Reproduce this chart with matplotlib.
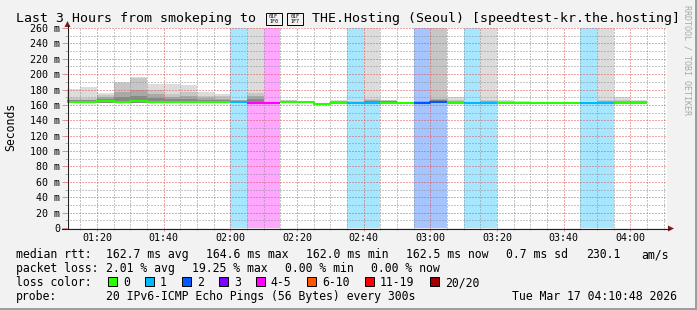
import numpy as np
import matplotlib
matplotlib.use("Agg")
import matplotlib.pyplot as plt
from matplotlib.patches import Rectangle, Polygon
from matplotlib.lines import Line2D
from matplotlib.ticker import FixedLocator, MultipleLocator

# ---- values (5 minute steps) ----
step_end = ["01:15", "01:20", "01:25", "01:30", "01:35", "01:40", "01:45",
            "01:50", "01:55", "02:00", "02:05", "02:10", "02:15", "02:20",
            "02:25", "02:30", "02:35", "02:40", "02:45", "02:50", "02:55",
            "03:00", "03:05", "03:10", "03:15", "03:20", "03:25", "03:30",
            "03:35", "03:40", "03:45", "03:50", "03:55", "04:00", "04:05"]
median_ms = [163.5, 163.5, 164.5, 164.2, 164.6, 164.0, 164.3, 164.2, 163.6, 163.5,
             163.5, 163.0, 163.0, 163.5, 163.2, 161.8, 163.0, 162.6, 162.6, 162.8,
             162.4, 163.0, 164.4, 162.3, 162.0, 162.0, 162.2, 162.2, 162.1, 162.1,
             162.1, 162.2, 162.2, 162.4, 162.5]
lost_pings = [0, 0, 0, 0, 0, 0, 0, 0, 0, 0,
              1, 4, 4, 0, 0, 0, 0, 1, 1, 0,
              0, 2, 2, 0, 1, 1, 0, 0, 0, 0,
              0, 1, 1, 0, 0]
smoke_min = [162.0, 162.0, 163.0, 163.0, 163.0, 162.5, 163.0, 163.0, 162.5, 162.5,
             162.5, 162.0, 162.0, 162.5, 162.3, 160.8, 162.0, 161.6, 161.6, 161.8,
             161.4, 162.0, 163.4, 161.3, 161.0, 161.0, 161.2, 161.2, 161.1, 161.1,
             161.1, 161.2, 161.2, 161.4, 161.5]
smoke_p60 = [166.0, 166.0, 167.5, 170.7, 172.0, 169.0, 167.5, 168.0, 166.5, 166.0,
             165.5, 168.0, 164.0, 165.0, 164.0, 162.5, 164.0, 163.5, 164.5, 164.5,
             163.2, 164.2, 166.5, 164.0, 163.0, 163.5, 163.5, 163.4, 163.2, 163.2,
             163.2, 163.4, 163.6, 164.2, 164.0]
smoke_p75 = [167.0, 167.0, 170.0, 177.2, 179.4, 174.0, 170.0, 172.0, 168.5, 168.0,
             166.0, 171.0, 164.0, 165.5, 164.2, 162.6, 164.5, 164.0, 166.0, 165.0,
             163.3, 164.5, 168.0, 165.0, 163.1, 164.5, 164.0, 163.6, 163.4, 163.3,
             163.3, 163.6, 164.5, 165.0, 164.6]
smoke_p90 = [169.5, 169.5, 173.0, 189.0, 195.5, 180.0, 173.8, 177.0, 171.0, 171.0,
             167.0, 176.0, 164.0, 166.0, 164.3, 162.8, 165.0, 165.0, 168.0, 166.0,
             163.4, 165.0, 300.0, 167.0, 163.3, 166.0, 165.0, 164.0, 163.6, 163.5,
             163.5, 164.0, 166.0, 166.5, 165.5]
smoke_max = [180.7, 183.3, 175.5, 190.2, 196.7, 187.2, 187.0, 186.3, 176.3, 174.6,
             168.0, 300.0, 164.0, 167.0, 164.5, 163.0, 166.0, 166.5, 300.0, 167.0,
             163.5, 165.5, 300.0, 170.3, 163.5, 300.0, 166.8, 164.5, 164.0, 163.8,
             163.8, 164.5, 300.0, 170.0, 166.8]

x_tick_labels = ["01:20", "01:40", "02:00", "02:20", "02:40", "03:00", "03:20", "03:40", "04:00"]
y_ticks = [0, 20, 40, 60, 80, 100, 120, 140, 160, 180, 200, 220, 240, 260]
y_tick_labels = ["0", "20 m", "40 m", "60 m", "80 m", "100 m", "120 m", "140 m",
                 "160 m", "180 m", "200 m", "220 m", "240 m", "260 m"]

loss_labels = ["0", "1", "2", "3", "4-5", "6-10", "11-19", "20/20"]
loss_upper = [0, 1, 2, 3, 5, 10, 19, 20]
loss_colors = ["#26ff00", "#00b8ff", "#0059ff", "#7e00ff", "#ff00ff", "#ff5500", "#ff0000", "#a10000"]

rtt_stats = ["162.7 ms avg", "164.6 ms max", "162.0 ms min", "162.5 ms now", "0.7 ms sd", "230.1", "am/s"]
loss_stats = ["2.01 % avg", "19.25 % max", "0.00 % min", "0.00 % now"]
probe_text = "20 IPv6-ICMP Echo Pings (56 Bytes) every 300s"
stamp_text = "Tue Mar 17 04:10:48 2026"
# the title holds a flag (regional indicators K, R) that no installed font has;
# the reference shows them as hex boxes, so they are drawn as boxes too
flag_codes = ["01F\n1F0", "01F\n1F7"]


def minutes(hhmm):
    # minutes after 01:00
    h, m = hhmm.split(":")
    return (int(h) - 1) * 60 + int(m)


W, H = 697, 310


def fx(x):
    return x / W


def fy(y):
    return 1 - y / H


plt.rcParams["font.family"] = "DejaVu Sans Mono"

fig = plt.figure(figsize=(W / 100, H / 100), dpi=100)
fig.patch.set_facecolor("#f2f2f2")
fig.add_artist(Rectangle((0, 0), 1, 2 / H, transform=fig.transFigure, color="#9e9e9e", lw=0))
fig.add_artist(Rectangle((1 - 2 / W, 0), 2 / W, 1, transform=fig.transFigure, color="#9e9e9e", lw=0))

ax = fig.add_axes([fx(67), fy(228), 600 / W, 200 / H])
ax.set_facecolor("white")
for s in ax.spines.values():
    s.set_visible(False)

ends = np.array([minutes(t) for t in step_end], dtype=float)
starts = ends - 5
cls = [next(k for k, up in enumerate(loss_upper) if n <= up) for n in lost_pings]

# loss background
for i in range(len(ends)):
    if cls[i] > 0:
        ax.bar(starts[i], 260, width=5, bottom=0, align="edge",
               color=loss_colors[cls[i]], alpha=0.35, lw=0, zorder=1)

# smoke
smin = np.array(smoke_min)
for top, col in [(smoke_max, "#dcdcdc"), (smoke_p90, "#c6c6c6"),
                 (smoke_p75, "#a8a8a8"), (smoke_p60, "#878787")]:
    ax.bar(starts, np.array(top) - smin, width=5, bottom=smin, align="edge",
           color=col, lw=0, zorder=1.5)

# median line coloured by loss
for c in sorted(set(cls)):
    xs, ys = [], []
    for i in range(len(ends)):
        if cls[i] != c:
            continue
        if i == 0 or cls[i - 1] != c:
            xs.append(np.nan)
            ys.append(np.nan)
        xs += [starts[i], ends[i]]
        ys += [median_ms[i], median_ms[i]]
    ax.plot(xs, ys, color=loss_colors[c], lw=1.5, solid_capstyle="butt", zorder=3)

ax.set_xlim(11, 191)
ax.set_ylim(0, 260)

major_c = (0.87, 0.31, 0.31, 0.6)
minor_c = (0.56, 0.56, 0.56, 0.6)
ax.xaxis.set_major_locator(FixedLocator([minutes(t) for t in x_tick_labels]))
ax.set_xticklabels(x_tick_labels)
ax.xaxis.set_minor_locator(MultipleLocator(5))
ax.set_yticks(y_ticks)
ax.set_yticklabels(y_tick_labels)
ax.yaxis.set_minor_locator(MultipleLocator(10))
ax.set_axisbelow(False)
ax.grid(True, which="minor", color=minor_c, lw=0.72, ls=(0, (1, 2)))
ax.grid(True, which="major", color=major_c, lw=0.72, ls=(0, (1, 2)))
ax.tick_params(axis="x", which="major", length=2.2, width=0.72, color=major_c, pad=1.5, labelsize=7.2)
ax.tick_params(axis="x", which="minor", length=1.5, width=0.72, color=minor_c)
ax.tick_params(axis="y", which="major", length=3.6, width=0.72, color=major_c, pad=1.4, labelsize=7.2)
ax.tick_params(axis="y", which="minor", length=1.4, width=0.72, color=minor_c)

# axes with arrows
fig.add_artist(Line2D([fx(67.5), fx(67.5)], [fy(228), fy(25)], transform=fig.transFigure, color="#1f1f1f", lw=0.8))
fig.add_artist(Line2D([fx(62), fx(670)], [fy(228.5), fy(228.5)], transform=fig.transFigure, color="#1f1f1f", lw=0.8))
fig.add_artist(Polygon([(fx(64.5), fy(27)), (fx(70.5), fy(27)), (fx(67.5), fy(21))],
                       closed=True, transform=fig.transFigure, color="#801f1f", lw=0))
fig.add_artist(Polygon([(fx(668), fy(225.5)), (fx(668), fy(231.5)), (fx(674), fy(228.5))],
                       closed=True, transform=fig.transFigure, color="#801f1f", lw=0))

# title and side labels
fig.text(fx(15.5), fy(22), "Last 3 Hours from smokeping to", fontsize=9.55, va="baseline")
bx = 265.5
for code in flag_codes:
    fig.add_artist(Rectangle((fx(bx), fy(25)), 16 / W, 12 / H, transform=fig.transFigure,
                             facecolor="none", edgecolor="black", lw=0.7))
    fig.text(fx(bx + 8), fy(19), code, fontsize=3.6, ha="center", va="center", linespacing=0.95)
    bx += 21.5
fig.text(fx(311.5), fy(22), "THE.Hosting (Seoul) [speedtest-kr.the.hosting]", fontsize=9.55, va="baseline")
fig.text(fx(10.5), fy(127), "Seconds", rotation=90, ha="center", va="center", fontsize=8.3)
fig.text(fx(687.5), fy(5), "RRDTOOL / TOBI OETIKER", rotation=270, ha="center", va="top",
         fontsize=6, color="#a8a8a8")

# legend
fs = 8.3
fig.text(fx(15.5), fy(258.3), "median rtt:", fontsize=fs, va="baseline")
for x, t in zip([106, 206, 306, 406, 506, 586, 641], rtt_stats):
    fig.text(fx(x), fy(258.3), t, fontsize=fs, va="baseline")
fig.text(fx(15.5), fy(272.3), "packet loss:", fontsize=fs, va="baseline")
for x, t in zip([106, 192, 285, 371], loss_stats):
    fig.text(fx(x), fy(272.3), t, fontsize=fs, va="baseline")
fig.text(fx(15.5), fy(286.3), "loss color:", fontsize=fs, va="baseline")
sx = 108.3
for lab, col in zip(loss_labels, loss_colors):
    fig.add_artist(Rectangle((fx(sx), fy(285.5)), 9 / W, 9 / H, transform=fig.transFigure,
                             facecolor=col, edgecolor="black", lw=0.7))
    fig.text(fx(sx + 14.5), fy(286.3), lab, fontsize=fs, va="baseline")
    sx += 30 + 7 * len(lab)
fig.text(fx(15.5), fy(300.3), "probe:", fontsize=fs, va="baseline")
fig.text(fx(106), fy(300.3), probe_text, fontsize=fs, va="baseline")
fig.text(fx(512.5), fy(300.3), stamp_text, fontsize=fs, va="baseline")

fig.savefig("out.png", dpi=100, facecolor=fig.get_facecolor())
